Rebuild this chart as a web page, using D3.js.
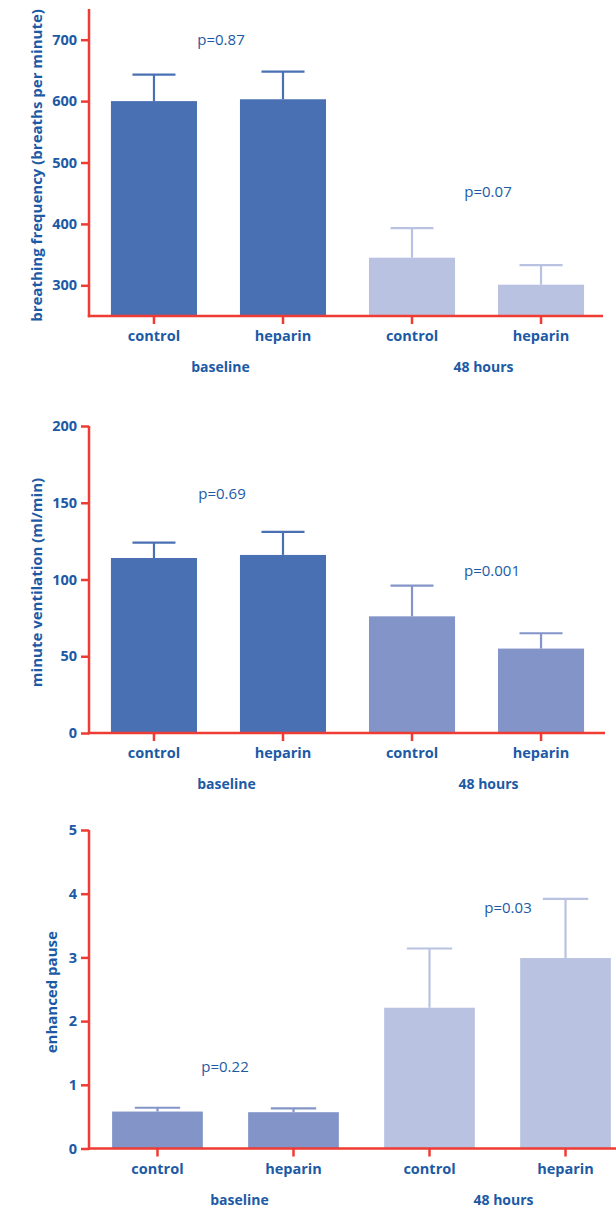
<!DOCTYPE html>
<html>
<head>
    <meta charset="utf-8">
    <script src="https://cdn.jsdelivr.net/npm/d3@7"></script>
    <style>
        body { margin: 0; background: #fff; }
        text { font-family: "Open Sans", sans-serif; fill: #1c5aa5; }
        .tick-label, .cat, .grp, .ytitle { font-weight: bold; }
    </style>
</head>
<body>
<div class="chart"></div>
<script>
var width = 616, height = 1209;

// ====================== data
var categories = ['control', 'heparin', 'control', 'heparin'];
var groups = ['baseline', '48 hours'];

var freqMean = [600, 603, 345, 301];
var freqErr = [43, 45, 48, 32];
var freqTicks = [300, 400, 500, 600, 700];
var freqP = ['p=0.87', 'p=0.07'];

var ventMean = [114, 116, 76, 55];
var ventErr = [10, 15, 20, 10];
var ventTicks = [0, 50, 100, 150, 200];
var ventP = ['p=0.69', 'p=0.001'];

var pauseMean = [0.58, 0.57, 2.21, 2.99];
var pauseErr = [0.06, 0.06, 0.93, 0.93];
var pauseTicks = [0, 1, 2, 3, 4, 5];
var pauseP = ['p=0.22', 'p=0.03'];

var dark = '#4a70b4', mid = '#8394c8', light = '#b9c3e1';
var red = '#ee3b33';

// ====================== panels (layout)
var panels = [
    {
        title: 'breathing frequency (breaths per minute)', titleX: 37,
        mean: freqMean, err: freqErr, ticks: freqTicks, pLabels: freqP,
        colors: [dark, dark, light, light],
        domain: [250, 750], yRange: [316, 9], xRange: [89, 606], axisEnd: 603,
        pPos: [[221, 700], [488, 452]], grpDx: [2, 7]
    },
    {
        title: 'minute ventilation (ml/min)', titleX: 37,
        mean: ventMean, err: ventErr, ticks: ventTicks, pLabels: ventP,
        colors: [dark, dark, mid, mid],
        domain: [0, 200], yRange: [733, 426], xRange: [89, 606], axisEnd: 605,
        pPos: [[222, 156], [492, 106]], grpDx: [8, 12]
    },
    {
        title: 'enhanced pause', titleX: 52,
        mean: pauseMean, err: pauseErr, ticks: pauseTicks, pLabels: pauseP,
        colors: [mid, mid, light, light],
        domain: [0, 5], yRange: [1148.5, 830], xRange: [89, 634], axisEnd: 616,
        pPos: [[225, 1.28], [508, 3.78]], grpDx: [14, 6]
    }
];

var svg = d3.select('.chart').append('svg')
        .attr('width', width)
        .attr('height', height);

panels.forEach(function (p) {
    var g = svg.append('g');

    var y = d3.scaleLinear().domain(p.domain).range(p.yRange);
    var x = d3.scaleBand()
            .domain(d3.range(categories.length))
            .range(p.xRange)
            .paddingInner(0.333)
            .paddingOuter(0.17);
    var x0 = p.xRange[0];
    var yBase = p.yRange[0];
    var bw = x.bandwidth();

    // bars
    g.selectAll('rect.bar').data(p.mean).enter().append('rect')
            .attr('class', 'bar')
            .attr('x', function (d, i) { return x(i); })
            .attr('y', function (d) { return y(d); })
            .attr('width', bw)
            .attr('height', function (d) { return yBase - y(d); })
            .attr('fill', function (d, i) { return p.colors[i]; });

    // error bars (upper only)
    var eb = g.selectAll('g.err').data(p.mean).enter().append('g')
            .attr('class', 'err')
            .attr('stroke', function (d, i) { return p.colors[i]; })
            .attr('stroke-width', 2.2);
    eb.append('line')
            .attr('x1', function (d, i) { return x(i) + bw / 2; })
            .attr('x2', function (d, i) { return x(i) + bw / 2; })
            .attr('y1', function (d) { return y(d); })
            .attr('y2', function (d, i) { return y(d + p.err[i]); });
    eb.append('line')
            .attr('x1', function (d, i) { return x(i) + bw / 4; })
            .attr('x2', function (d, i) { return x(i) + bw * 3 / 4; })
            .attr('y1', function (d, i) { return y(d + p.err[i]); })
            .attr('y2', function (d, i) { return y(d + p.err[i]); });

    // y axis
    var yAxis = g.append('g')
            .attr('transform', 'translate(' + x0 + ',0)')
            .call(d3.axisLeft(y).tickValues(p.ticks).tickFormat(d3.format('d'))
                    .tickSize(8).tickPadding(4));
    yAxis.select('.domain').remove();
    yAxis.selectAll('.tick line').attr('stroke', red).attr('stroke-width', 2.5);
    yAxis.selectAll('.tick text')
            .attr('class', 'tick-label')
            .attr('fill', '#1c5aa5')
            .style('font-size', '14.5px')
            .style('font-family', '"Open Sans", sans-serif');
    g.append('line')
            .attr('x1', x0).attr('x2', x0)
            .attr('y1', y(p.domain[1])).attr('y2', yBase + 1.2)
            .attr('stroke', red).attr('stroke-width', 2.5);

    // x axis
    g.append('line')
            .attr('x1', x0 - 1.2).attr('x2', p.axisEnd)
            .attr('y1', yBase).attr('y2', yBase)
            .attr('stroke', red).attr('stroke-width', 2.5);
    g.selectAll('line.xtick').data(categories).enter().append('line')
            .attr('class', 'xtick')
            .attr('x1', function (d, i) { return x(i) + bw / 2; })
            .attr('x2', function (d, i) { return x(i) + bw / 2; })
            .attr('y1', yBase).attr('y2', yBase + 8)
            .attr('stroke', red).attr('stroke-width', 2.5);
    g.selectAll('text.cat').data(categories).enter().append('text')
            .attr('class', 'cat')
            .attr('x', function (d, i) { return x(i) + bw / 2; })
            .attr('y', yBase + 25)
            .attr('text-anchor', 'middle')
            .style('font-size', '14.5px')
            .text(function (d) { return d; });
    g.selectAll('text.grp').data(groups).enter().append('text')
            .attr('class', 'grp')
            .attr('x', function (d, i) {
                return (x(2 * i) + x(2 * i + 1)) / 2 + bw / 2 + p.grpDx[i];
            })
            .attr('y', yBase + 56)
            .attr('text-anchor', 'middle')
            .style('font-size', '14px')
            .text(function (d) { return d; });

    // y title
    var yMid = (p.yRange[0] + p.yRange[1]) / 2 + 3;
    g.append('text')
            .attr('class', 'ytitle')
            .attr('transform', 'translate(' + p.titleX + ',' + yMid + ') rotate(-90)')
            .attr('text-anchor', 'middle')
            .attr('dy', '0.35em')
            .style('font-size', '15px')
            .text(p.title);

    // p values
    g.selectAll('text.pval').data(p.pLabels).enter().append('text')
            .attr('class', 'pval')
            .attr('x', function (d, i) { return p.pPos[i][0]; })
            .attr('y', function (d, i) { return y(p.pPos[i][1]); })
            .attr('dy', '0.35em')
            .attr('text-anchor', 'middle')
            .style('font-size', '15px')
            .text(function (d) { return d; });
});
</script>
</body>
</html>
